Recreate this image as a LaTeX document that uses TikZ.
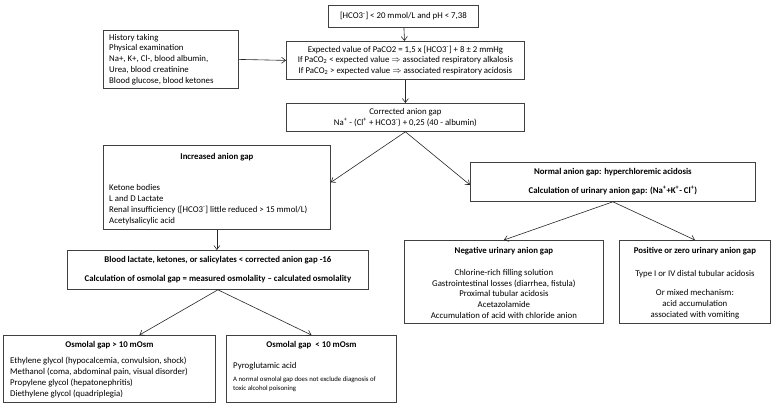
\documentclass[tikz,border=0pt]{standalone}
\usepackage{fontspec}
\setmainfont{Carlito}
\usetikzlibrary{arrows.meta}
\begin{document}
\begin{tikzpicture}[x=1pt,y=-1pt,
  box/.style={draw=black!75,line width=0.8pt,minimum width=#1,inner sep=0pt,anchor=north west},
  txt/.style={font=\fontsize{8.8}{10.8}\selectfont,inner sep=0pt,align=center},
  btxt/.style={font=\fontsize{8.8}{10.8}\selectfont\bfseries,inner sep=0pt,align=center},
  ltxt/.style={font=\fontsize{8.8}{10.8}\selectfont,inner sep=0pt,align=left},
  arr/.style={-{Straight Barb[length=4pt,width=6pt]},line width=0.6pt,black!85}]
\useasboundingbox (0,0) rectangle (784,405);
% boxes
\node[box=150pt,minimum height=22pt] (top) at (328,5) {};
\node[box=135pt,minimum height=58pt] (hist) at (103,30) {};
\node[box=238pt,minimum height=38pt] (exp) at (286,41) {};
\node[box=238pt,minimum height=28pt] (corr) at (286,103) {};
\node[box=227pt,minimum height=84pt] (inc) at (103,145) {};
\node[box=285pt,minimum height=39pt] (norm) at (470,162) {};
\node[box=301pt,minimum height=39pt] (blood) at (67,250) {};
\node[box=199pt,minimum height=83pt] (neg) at (404,240) {};
\node[box=151pt,minimum height=83pt] (pos) at (619,240) {};
\node[box=212pt,minimum height=67pt] (osa) at (3,335) {};
\node[box=170pt,minimum height=67pt] (osb) at (226,335) {};
% texts
\node[txt] (ttop) at (top.center) {[HCO3\textsuperscript{-}] < 20 mmol/L and pH < 7,38};
\node[ltxt,anchor=west] (thist) at ([xshift=6pt]hist.west) {History taking\\Physical examination\\Na+, K+, Cl-, blood albumin,\\Urea, blood creatinine\\Blood glucose, blood ketones};
\node[txt] (texp) at (exp.center) {Expected value of PaCO2 = 1,5 x [HCO3\textsuperscript{-}] + 8 ± 2 mmHg\\If PaCO\textsubscript{2} < expected value $\Rightarrow$ associated respiratory alkalosis\\If PaCO\textsubscript{2} > expected value $\Rightarrow$ associated respiratory acidosis};
\node[txt] (tcorr) at (corr.center) {Corrected anion gap\\Na\textsuperscript{+} - (Cl\textsuperscript{+} + HCO3\textsuperscript{-}) + 0,25 (40 - albumin)};
\node[btxt] (tinc1) at ([yshift=-12pt]inc.north) {Increased anion gap};
\node[ltxt,anchor=south west] (tinc2) at ([xshift=6pt,yshift=5pt]inc.south west) {Ketone bodies\\L and D Lactate\\Renal insufficiency ([HCO3\textsuperscript{-}] little reduced > 15 mmol/L)\\Acetylsalicylic acid};
\node[btxt] (tnorm) at (norm.center) {Normal anion gap: hyperchloremic acidosis\\[8pt]Calculation of urinary anion gap: (Na\textsuperscript{+}+K\textsuperscript{+}- Cl\textsuperscript{+})};
\node[btxt] (tblood) at (blood.center) {Blood lactate, ketones, or salicylates < corrected anion gap -16\\[8pt]Calculation of osmolal gap = measured osmolality -- calculated osmolality};
\node[btxt] (tneg1) at ([yshift=-11pt]neg.north) {Negative urinary anion gap};
\node[txt,anchor=south] (tneg2) at ([yshift=5pt]neg.south) {Chlorine-rich filling solution\\Gastrointestinal losses (diarrhea, fistula)\\Proximal tubular acidosis\\Acetazolamide\\Accumulation of acid with chloride anion};
\node[btxt] (tpos1) at ([yshift=-11pt]pos.north) {Positive or zero urinary anion gap};
\node[txt,anchor=south] (tpos2) at ([yshift=5pt]pos.south) {Type I or IV distal tubular acidosis\\[8pt]Or mixed mechanism:\\acid accumulation\\associated with vomiting};
\node[btxt] (tosa1) at ([yshift=-10pt]osa.north) {Osmolal gap > 10 mOsm};
\node[ltxt,anchor=south west] (tosa2) at ([xshift=7pt,yshift=5pt]osa.south west) {Ethylene glycol (hypocalcemia, convulsion, shock)\\Methanol (coma, abdominal pain, visual disorder)\\Propylene glycol (hepatonephritis)\\Diethylene glycol (quadriplegia)};
\node[btxt] (tosb1) at ([yshift=-10pt]osb.north) {Osmolal gap\ \ < 10 mOsm};
\node[ltxt,anchor=west] (tosb2) at ([xshift=7pt,yshift=-31pt]osb.north west) {Pyroglutamic acid};
\node[ltxt,anchor=north west,font=\fontsize{6.8}{9}\selectfont] (tosb3) at ([xshift=7pt,yshift=-42pt]osb.north west) {A normal osmolal gap does not exclude diagnosis of\\toxic alcohol poisoning};
% connectors
\draw[arr] (top) -- (exp);
\draw[arr] (hist.east) -- (exp.west);
\draw[arr] (exp) -- (corr);
\draw[arr] (corr.south) -- ([yshift=5pt]inc.east);
\draw[arr] (corr.south) -- ([yshift=-3pt]norm.west);
\draw[arr] (inc.south) -- (inc.south |- blood.north);
\draw[arr] (norm.south) -- (neg.north);
\draw[arr] (norm.south) -- (pos.north);
\draw[arr] (blood.south) -- ([xshift=30pt]osa.north);
\draw[arr] (blood.south) -- (osb.north);
\end{tikzpicture}
\end{document}
